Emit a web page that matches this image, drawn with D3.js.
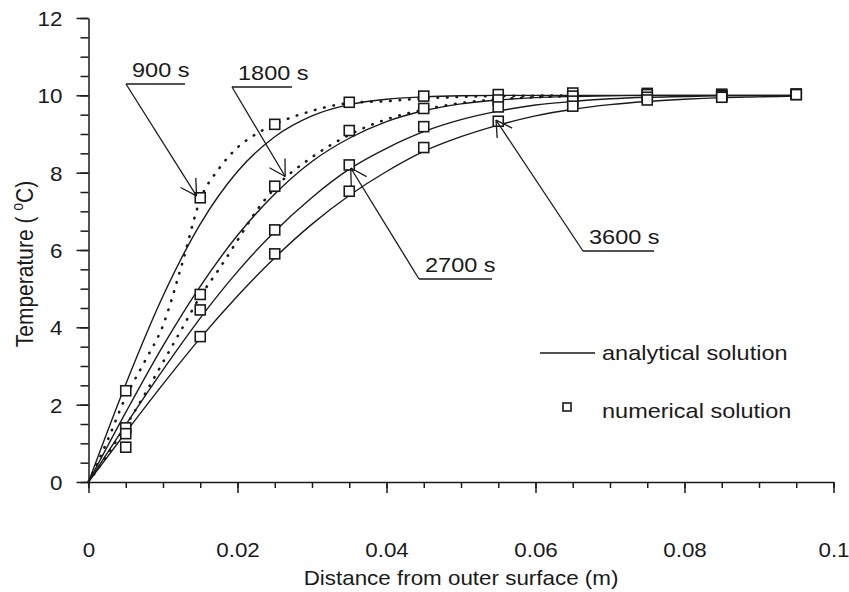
<!DOCTYPE html>
<html>
<head>
<meta charset="utf-8">
<script src="https://cdn.jsdelivr.net/npm/d3@7"></script>
<style>
  html, body { margin: 0; padding: 0; background: #fff; }
  svg { display: block; }
  text { font-family: "Liberation Sans", Arial, sans-serif; fill: #1a1a1a; }
</style>
</head>
<body>
<div id="chart"></div>
<script>
// ---- values ----

// analytical solution, sampled every 0.005 m
const distance = [0, 0.005, 0.01, 0.015, 0.02, 0.025, 0.03, 0.035, 0.04, 0.045,
                  0.05, 0.055, 0.06, 0.065, 0.07, 0.075, 0.08, 0.085, 0.09, 0.095];
const analytical900  = [0, 2.53, 4.81, 6.67, 8.03, 8.93, 9.47, 9.76, 9.90, 9.96,
                        9.99, 10, 10, 10, 10, 10, 10, 10, 10, 10];
const analytical1800 = [0, 1.80, 3.52, 5.06, 6.38, 7.45, 8.29, 8.89, 9.32, 9.60,
                        9.78, 9.88, 9.94, 9.97, 9.99, 10, 10, 10, 10, 10];
const analytical2700 = [0, 1.48, 2.90, 4.24, 5.44, 6.48, 7.36, 8.09, 8.63, 9.06,
                        9.37, 9.59, 9.75, 9.84, 9.91, 9.95, 9.97, 9.99, 9.99, 10];
const analytical3600 = [0, 1.28, 2.53, 3.72, 4.81, 5.80, 6.67, 7.41, 8.03, 8.55,
                        8.93, 9.23, 9.47, 9.64, 9.76, 9.84, 9.90, 9.94, 9.96, 9.98];

// numerical solution at the grid nodes
const nodes = [0.005, 0.015, 0.025, 0.035, 0.045, 0.055, 0.065, 0.075, 0.085, 0.095];
const numerical900  = [2.36, 7.35, 9.25, 9.82, 9.98, 10.02, 10.06, 10.05, 10.03, 10.03];
const numerical1800 = [1.40, 4.85, 7.65, 9.09, 9.66, 9.88, 9.98, 10.02, 10.00, 10.03];
const numerical2700 = [1.25, 4.45, 6.52, 8.20, 9.19, 9.70, 9.85, 9.95, 9.97, 10.02];
const numerical3600 = [0.90, 3.76, 5.90, 7.52, 8.65, 9.33, 9.72, 9.88, 9.95, 10.02];

// dotted curves (900 s and 1800 s)
const dottedX    = [0, 0.0025, 0.005, 0.0075, 0.01, 0.0125, 0.015, 0.0175, 0.02, 0.0225,
                    0.025, 0.03, 0.035, 0.04, 0.045, 0.05, 0.055, 0.06, 0.065];
const dotted900  = [0, 1.05, 2.2, 3.1, 4.05, 5.6, 7.3, 8.1, 8.65, 9.0,
                    9.25, 9.6, 9.8, 9.85, 9.92, 9.96, 9.98, 9.99, 10.0];
const dotted1800 = [0, 0.7, 1.45, 2.25, 3.1, 3.95, 4.8, 5.5, 6.25, 7.0,
                    7.6, 8.4, 8.98, 9.38, 9.63, 9.8, 9.9, 9.95, 9.98];

const timeLabels = ['900 s', '1800 s', '2700 s', '3600 s'];
const legendLabels = ['analytical solution', 'numerical solution'];
const xTicks = [0, 0.02, 0.04, 0.06, 0.08, 0.1];
const yTicks = [0, 2, 4, 6, 8, 10, 12];

// ---- layout ----
const W = 849, H = 592;
const SX = 1.12;          // the scan is stretched sideways, so is its lettering
const ink = '#1a1a1a';

const svg = d3.select('#chart').append('svg')
  .attr('width', W).attr('height', H)
  .style('background', '#fff');

const x = d3.scaleLinear().domain([0, 0.1]).range([88.5, 833.5]);
const y = d3.scaleLinear().domain([0, 12]).range([482, 18]);

function addText(g, str, px, py, anchor, size) {
  return g.append('text')
    .attr('transform', `translate(${px},${py}) scale(${SX},1)`)
    .attr('text-anchor', anchor || 'start')
    .attr('font-size', (size || 20) + 'px')
    .text(str);
}

// ---- axes ----
const xMinor = d3.range(0, 0.1001, 0.005);
const yMinor = d3.range(0, 12.01, 0.5);

svg.append('g')
  .attr('transform', `translate(0,${y(0)})`)
  .call(d3.axisBottom(x).tickValues(xMinor).tickSize(6).tickFormat(''))
  .call(g => g.select('.domain').remove());

const xAxis = svg.append('g')
  .attr('transform', `translate(0,${y(0)})`)
  .call(d3.axisBottom(x).tickValues(xTicks).tickSize(11).tickSizeOuter(0)
    .tickPadding(50).tickFormat(d => String(+d.toFixed(2))));

svg.append('g')
  .attr('transform', `translate(${x(0)},0)`)
  .call(d3.axisLeft(y).tickValues(yMinor).tickSize(8).tickFormat(''))
  .call(g => g.select('.domain').remove());

const yAxis = svg.append('g')
  .attr('transform', `translate(${x(0)},0)`)
  .call(d3.axisLeft(y).tickValues(yTicks).tickSize(12).tickSizeOuter(0));

svg.selectAll('.tick line, .domain')
  .attr('stroke', ink).attr('stroke-width', 1.5);

xAxis.selectAll('text')
  .attr('font-size', '20px').attr('fill', ink)
  .attr('font-family', '"Liberation Sans", Arial, sans-serif')
  .attr('transform', `scale(${SX},1)`);

yAxis.selectAll('text')
  .attr('x', null).attr('dy', '0.38em')
  .attr('font-size', '20px').attr('fill', ink)
  .attr('font-family', '"Liberation Sans", Arial, sans-serif')
  .attr('transform', `translate(-26,0) scale(${SX},1)`);

// axis titles
addText(svg, 'Distance from outer surface (m)', (x(0) + x(0.1)) / 2, 585, 'middle');

const yTitle = svg.append('text')
  .attr('transform', `translate(33,264) scale(${SX},1) rotate(-90)`)
  .attr('text-anchor', 'middle')
  .attr('font-size', '21px');
yTitle.append('tspan').text('Temperature ( ');
yTitle.append('tspan').attr('font-size', '14px').attr('dy', -9).text('o');
yTitle.append('tspan').attr('dy', 9).text('C)');

// ---- curves ----
const line = d3.line()
  .x(d => x(d[0]))
  .y(d => y(d[1]))
  .curve(d3.curveMonotoneX);

const analytical = [analytical900, analytical1800, analytical2700, analytical3600];
const numerical = [numerical900, numerical1800, numerical2700, numerical3600];

svg.append('g')
  .selectAll('path')
  .data(analytical)
  .join('path')
  .attr('d', vals => line(distance.map((d, i) => [d, vals[i]])))
  .attr('fill', 'none')
  .attr('stroke', ink)
  .attr('stroke-width', 1.4);

svg.append('g')
  .selectAll('path')
  .data([dotted900, dotted1800])
  .join('path')
  .attr('d', vals => line(dottedX.map((d, i) => [d, vals[i]])))
  .attr('fill', 'none')
  .attr('stroke', ink)
  .attr('stroke-width', 2.6)
  .attr('stroke-linecap', 'round')
  .attr('stroke-dasharray', '0.5 9');

// numerical squares
const sq = 10;
const points = numerical.flatMap(vals => nodes.map((d, i) => [d, vals[i]]));
svg.append('g')
  .selectAll('rect')
  .data(points)
  .join('rect')
  .attr('x', d => x(d[0]) - sq / 2)
  .attr('y', d => y(d[1]) - sq / 2)
  .attr('width', sq).attr('height', sq)
  .attr('fill', '#fff')
  .attr('stroke', ink)
  .attr('stroke-width', 1.6);

// ---- time callouts: label on an underline, leader with open arrowhead ----
const callouts = [
  { tip: [0.0145, 7.4],  anchor: [126, 84],  len: 59 },
  { tip: [0.0264, 7.9],  anchor: [232, 87],  len: 60 },
  { tip: [0.0352, 8.12], anchor: [419, 279], len: 73 },
  { tip: [0.0547, 9.36], anchor: [583, 251], len: 71 }
];

const ann = svg.append('g')
  .attr('stroke', ink)
  .attr('stroke-width', 1.3)
  .attr('fill', 'none');

callouts.forEach((c, i) => {
  const tx = x(c.tip[0]), ty = y(c.tip[1]);
  const [ax, ay] = c.anchor;
  ann.append('line').attr('x1', ax).attr('y1', ay).attr('x2', ax + c.len).attr('y2', ay);
  ann.append('line').attr('x1', ax).attr('y1', ay).attr('x2', tx).attr('y2', ty);

  const dl = Math.hypot(ax - tx, ay - ty);
  const ux = (ax - tx) / dl, uy = (ay - ty) / dl;
  [Math.PI / 6, -Math.PI / 6].forEach(a => {
    const bx = ux * Math.cos(a) - uy * Math.sin(a);
    const by = ux * Math.sin(a) + uy * Math.cos(a);
    ann.append('line')
      .attr('x1', tx).attr('y1', ty)
      .attr('x2', tx + bx * 18).attr('y2', ty + by * 18);
  });

  addText(svg, timeLabels[i], ax + 6, ay - 7, 'start', 21);
});

// ---- legend ----
const legend = svg.append('g');
legend.append('line')
  .attr('x1', 540).attr('x2', 595).attr('y1', 353).attr('y2', 353)
  .attr('stroke', ink).attr('stroke-width', 1.4);
addText(legend, legendLabels[0], 602, 360, 'start', 21);

legend.append('rect')
  .attr('x', 563).attr('y', 403).attr('width', 8).attr('height', 8)
  .attr('fill', '#fff').attr('stroke', ink).attr('stroke-width', 1.6);
addText(legend, legendLabels[1], 602, 418, 'start', 21);
</script>
</body>
</html>
